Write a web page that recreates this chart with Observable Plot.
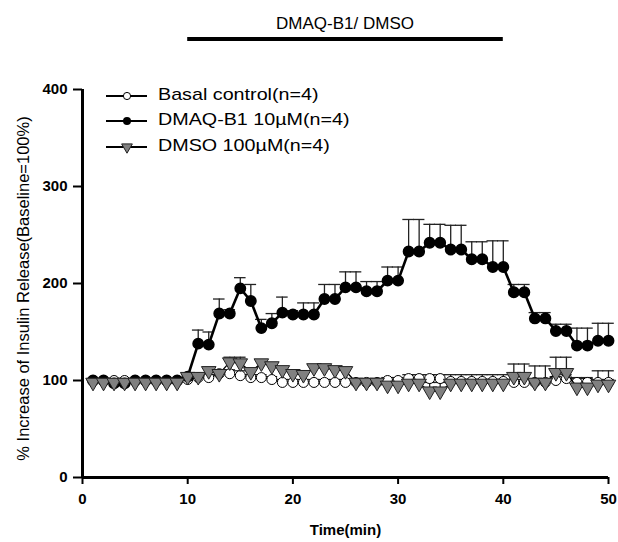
<!DOCTYPE html>
<html><head><meta charset="utf-8">
<script src="https://cdn.jsdelivr.net/npm/d3@7"></script>
<script src="https://cdn.jsdelivr.net/npm/@observablehq/plot@0.6"></script>
<style>body{margin:0;background:#fff}</style>
</head><body><div id="chart"></div>
<script>
const time = [1,2,3,4,5,6,7,8,9,10,11,12,13,14,15,16,17,18,19,20,21,22,23,24,25,26,27,28,29,30,31,32,33,34,35,36,37,38,39,40,41,42,43,44,45,46,47,48,49,50];
const basal = [100,100,100,100,100,100,100,100,100,101, 103,103,107,107,105,103,103,101,98,98, 98,98,98,98,98,98,98,98,100,100, 102,102,102,102,99,99,99,99,99,99, 98,98,98,98,100,102,98,98,98,98];
const basalErr = [2,2,2,2,2,2,2,2,2,2, 3,3,4,4,5,3,3,3,3,3, 3,3,3,3,3,3,3,3,3,3, 4,4,4,4,7,7,7,7,7,7, 3,3,3,3,4,4,5,5,3,3];
const dmaq = [100,100,97,97,100,100,100,100,100,104, 138,137,169,169,195,182,154,159,170,168, 168,168,184,184,196,196,192,192,203,203, 233,233,242,242,235,235,225,225,217,217, 191,191,164,164,151,151,136,136,141,141];
const dmaqErr = [2,2,3,3,2,2,2,2,2,3, 14,13,15,4,11,17,9,10,16,4, 12,12,15,15,16,16,10,10,14,14, 33,33,19,19,25,25,18,18,27,27, 8,8,6,6,7,7,18,18,18,18];
const dmso = [98,98,98,98,98,98,98,98,98,104, 104,110,107,119,118,109,118,115,111,107, 106,113,113,111,110,98,98,98,95,95, 97,97,89,89,97,97,97,97,97,97, 104,104,98,98,108,108,93,93,96,96];
const dmsoErr = [2,2,2,2,2,2,2,2,2,2, 3,3,3,5,6,3,3,3,3,3, 4,3,3,3,2,2,2,2,3,3, 4,4,9,9,3,3,3,3,3,3, 13,13,17,17,16,16,9,9,14,14];
const seriesNames = ["Basal control(n=4)", "DMAQ-B1 10µM(n=4)", "DMSO 100µM(n=4)"];
const xTicks = [0,10,20,30,40,50];
const yTicks = [0,100,200,300,400];
const treatment = [10, 40];
const titleText = "DMAQ-B1/ DMSO";
const xLabel = "Time(min)";
const yLabel = "% Increase of Insulin Release(Baseline=100%)";

const rows = (vals, errs) => time.map((t, i) => ({t, v: vals[i], hi: vals[i] + errs[i]}));
const basalRows = rows(basal, basalErr);
const dmaqRows = rows(dmaq, dmaqErr);
const dmsoRows = rows(dmso, dmsoErr);
const allRows = [...basalRows, ...dmaqRows, ...dmsoRows];

const FONT = "'Liberation Sans', Arial, sans-serif";
const plot = Plot.plot({
  width: 618, height: 542,
  marginLeft: 82, marginRight: 10, marginTop: 89, marginBottom: 65,
  style: {fontFamily: FONT, background: "#fff", color: "#000"},
  x: {domain: [0, 50]},
  y: {domain: [0, 400]},
  marks: [
    Plot.axisX({ticks: xTicks, tickSize: 7, tickPadding: 9, fontSize: 15, fontWeight: "bold", strokeWidth: 2, label: null, tickFormat: d => String(d)}),
    Plot.axisY({ticks: yTicks, tickSize: 9, tickPadding: 6, fontSize: 15, fontWeight: "bold", strokeWidth: 2, label: null, tickFormat: d => String(d)}),
    // error bars
    Plot.ruleX(allRows, {x: "t", y1: "v", y2: "hi", stroke: "#222", strokeWidth: 1.3}),
    Plot.ruleY(allRows, {y: "hi", x1: d => d.t - 0.55, x2: d => d.t + 0.55, stroke: "#222", strokeWidth: 1.3}),
    // series
    Plot.line(basalRows, {x: "t", y: "v", stroke: "#000", strokeWidth: 1.3}),
    Plot.dot(basalRows, {x: "t", y: "v", r: 5, fill: "#fff", stroke: "#000", strokeWidth: 1}),
    Plot.line(dmaqRows, {x: "t", y: "v", stroke: "#000", strokeWidth: 2.6}),
    Plot.dot(dmaqRows, {x: "t", y: "v", r: 5.2, fill: "#000", stroke: "#000"}),
    Plot.line(dmsoRows, {x: "t", y: "v", stroke: "#000", strokeWidth: 1.3}),
    Plot.dot(dmsoRows, {x: "t", y: "v", symbol: "triangle", rotate: 180, r: 5.4, fill: "#808080", stroke: "#222", strokeWidth: 1}),
    // axis lines
    Plot.ruleX([0], {y1: 0, y2: 400, stroke: "#000", strokeWidth: 3}),
    Plot.ruleY([0], {x1: 0, x2: 50, stroke: "#000", strokeWidth: 3}),
    // axis labels
    Plot.text([xLabel], {frameAnchor: "bottom", dy: 57, fontSize: 15, fontWeight: "bold"}),
    Plot.text([yLabel], {frameAnchor: "left", textAnchor: "middle", dx: -59, dy: 5, rotate: -90, fontSize: 16.5})
  ]
});

const svg = d3.select(plot);
const xs = plot.scale("x");
const x1 = xs.apply(treatment[0]), x2 = xs.apply(treatment[1]);
svg.append("line").attr("x1", x1).attr("x2", x2).attr("y1", 39).attr("y2", 39)
  .attr("stroke", "#000").attr("stroke-width", 4);
svg.append("text").attr("x", (x1 + x2) / 2).attr("y", 25).attr("text-anchor", "middle")
  .attr("dominant-baseline", "middle").attr("font-size", 17).attr("font-family", FONT).text(titleText);

const legendY = [96, 121, 147];
const lg = svg.append("g");
seriesNames.forEach((name, i) => {
  const y = legendY[i];
  lg.append("line").attr("x1", 106).attr("x2", 147).attr("y1", y).attr("y2", y).attr("stroke", "#000").attr("stroke-width", 2.2);
  if (i === 0) lg.append("circle").attr("cx", 127).attr("cy", y).attr("r", 3.6).attr("fill", "#fff").attr("stroke", "#000");
  if (i === 1) lg.append("circle").attr("cx", 127).attr("cy", y).attr("r", 4).attr("fill", "#000");
  if (i === 2) lg.append("path").attr("d", d3.symbol(d3.symbolTriangle, 50)()).attr("transform", `translate(127,${y}) rotate(180)`).attr("fill", "#808080").attr("stroke", "#222");
  lg.append("text").attr("transform", `translate(158,${y}) scale(1.16,1)`).attr("text-anchor", "start")
    .attr("dominant-baseline", "middle").attr("font-size", 17).attr("font-family", FONT).text(name);
});

document.getElementById("chart").appendChild(plot);
</script>
</body></html>
